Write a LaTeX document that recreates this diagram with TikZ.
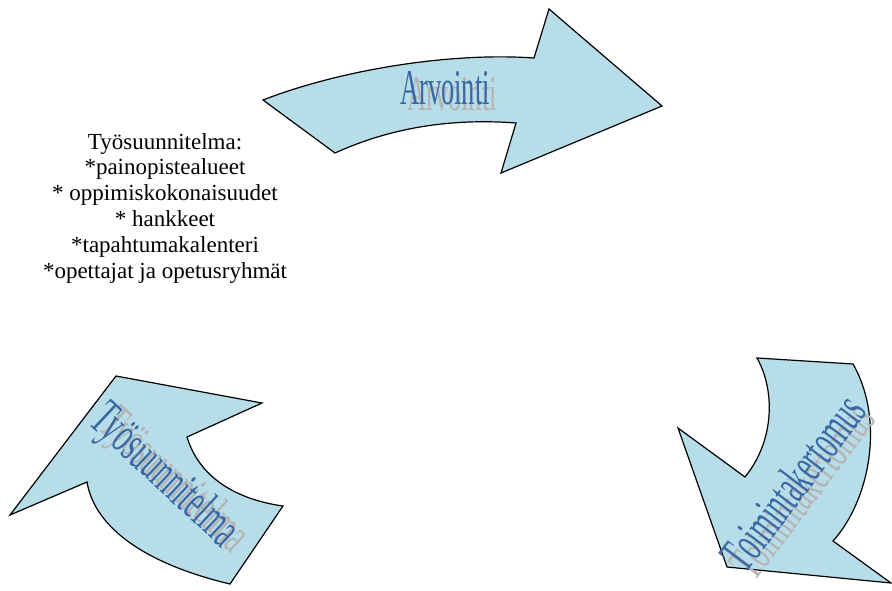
\documentclass[tikz,border=0pt]{standalone}
\usepackage{fontspec}
\setmainfont{Liberation Serif}
\definecolor{arrowfill}{HTML}{B7DEE8}
\definecolor{wordblue}{HTML}{3A68A4}
\definecolor{wordgray}{HTML}{B4B4B4}

\begin{document}
\begin{tikzpicture}[x=1pt,y=-1pt,
        bendarrow/.style={draw=black, fill=arrowfill, line width=1.2pt, line join=miter},
        word/.style={font=\fontsize{#1}{#1}\selectfont, inner sep=0pt}]
        \useasboundingbox (0,0) rectangle (892,590);
        % top arrow
        \draw[bendarrow] (263,100) .. controls (340,70) and (450,52) .. (534,58) -- (549,9) -- (662,106)
            -- (501,173) -- (516,123) .. controls (450,118) and (390,128) .. (335,153) -- cycle;
        % left arrow
        \draw[bendarrow] (116,376) -- (262,403) -- (187,437) .. controls (200,480) and (240,500) .. (283,506)
            -- (230,584) .. controls (150,565) and (95,530) .. (87,482) -- (10,515) -- cycle;
        % right arrow
        \draw[bendarrow] (757,358) -- (853,364) .. controls (885,420) and (870,500) .. (833,541)
            -- (891,583) -- (727,567) -- (678,428) -- (745,477) .. controls (775,440) and (775,390) .. (757,358) -- cycle;
        % words, gray shadow first
        \foreach \c/\s in {wordgray/1, wordblue/0} {
            \node[word=50, xscale=0.53, text=\c] (arv\c) at (445+7*\s,88+6*\s) {Arvointi};
            \node[rotate=-43, word=52, xscale=0.55, text=\c] (tyo\c) at (163+10*\s,477+5*\s) {Työsuunnitelma};
            \node[rotate=53, word=52, xscale=0.535, text=\c] (toi\c) at (793+9*\s,482+8*\s) {Toimintakertomus};
        }
        \node[align=center, font=\fontsize{23}{25.8}\selectfont] (plan) at (165,208)
            {Työsuunnitelma:\\*painopistealueet\\* oppimiskokonaisuudet\\* hankkeet\\*tapahtumakalenteri\\*opettajat ja opetusryhmät};
    \end{tikzpicture}
\end{document}
